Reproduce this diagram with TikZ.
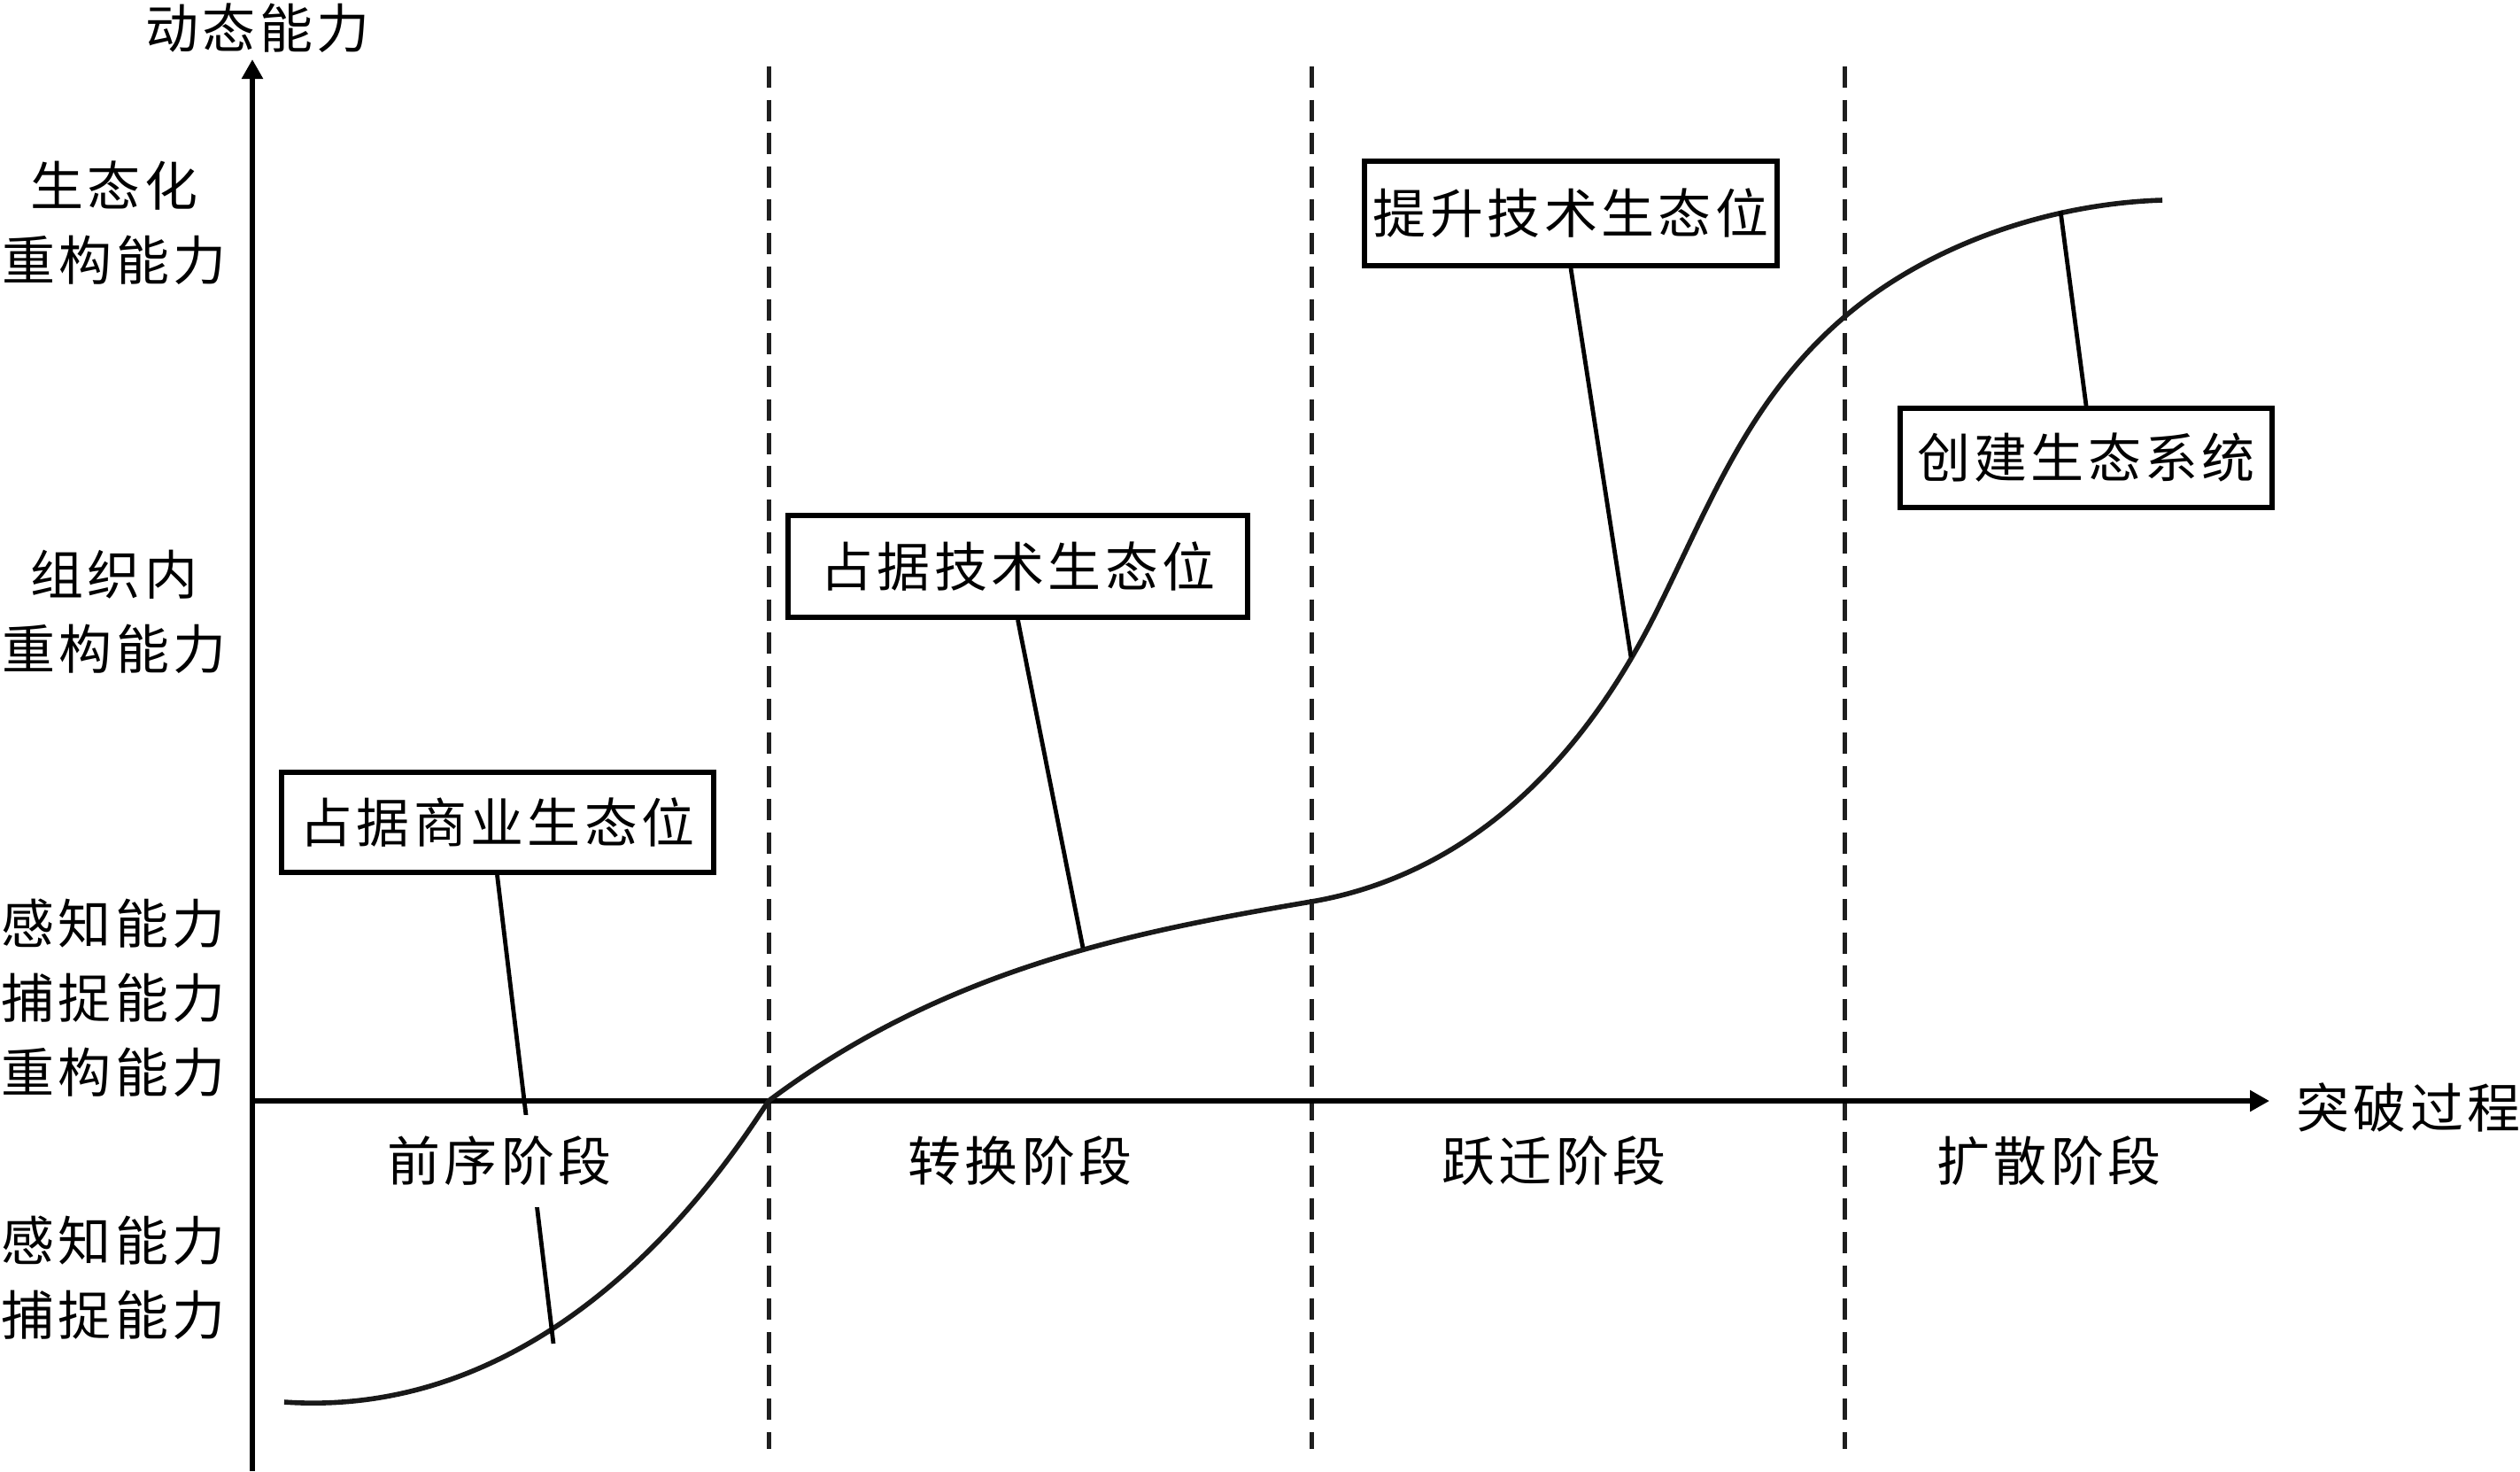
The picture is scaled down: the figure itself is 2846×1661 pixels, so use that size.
\documentclass[tikz,border=0pt]{standalone}
\usepackage{fontspec}
\newfontfamily\cjk{Noto Sans CJK SC}
\usetikzlibrary{arrows.meta}
\newdimen\lspamt \lspamt=1.1pt
\def\lspEnd{\lspEnd}
\def\lspGob#1{}
\def\lsp#1{\lspA#1\lspEnd}
\def\lspA#1#2{#1\ifx#2\lspEnd\expandafter\lspGob\else\kern\lspamt\expandafter\lspA\fi#2}
\begin{document}
\begin{tikzpicture}[x=0.25pt,y=-0.25pt,
  every node/.style={font=\cjk\fontsize{15pt}{21pt}\selectfont, inner sep=0pt},
  lab/.style={align=center},
  dashline/.style={line width=1.25pt, draw=black!88, dash pattern=on 6pt off 3.4pt},
  axis/.style={line width=1.35pt, -{Triangle[length=5.5pt,width=5.75pt]}},
  curve/.style={line width=1.4pt, draw=black!90},
  leader/.style={line width=1.2pt},
  box/.style={draw, line width=1.5pt, fill=white},
  stage/.style={fill=white, inner xsep=4pt, inner ysep=6pt}]
\useasboundingbox (0,0) rectangle (2846,1661);
% dashed stage separators
\foreach \x/\n in {868/d1,1481/d2,2083/d3}{
  \coordinate (\n t) at (\x,75);
  \coordinate (\n b) at (\x,1636);
  \draw[dashline] (\n t) -- (\n b);
}
% axes
\coordinate (O) at (285,1243);
\coordinate (yb) at (285,1661);
\coordinate (yt) at (285,67);
\coordinate (xe) at (2563,1243);
\draw[axis] (yb) -- (yt);
\draw[axis] (O) -- (xe);
\node (ylab) at (291,32) {\lsp{动态能力}};
\node (xlab) at (2720,1250) {\lsp{突破过程}};
% curve
\coordinate (k0) at (321,1583);
\coordinate (k1) at (868,1243);
\coordinate (k2) at (1481,1018);
\coordinate (k3) at (1870,692);
\coordinate (k4) at (2084,357);
\coordinate (k5) at (2442,226);
\draw[curve] (k0) .. controls (640,1605) and (830,1300) .. (k1)
  .. controls (1068,1093) and (1281,1052) .. (k2)
  .. controls (1631,992.5) and (1770,892) .. (k3)
  .. controls (1930,572) and (1974,450.5) .. (k4)
  .. controls (2184,272) and (2322,229.6) .. (k5);
% leader end points on the curve
\coordinate (c1) at (625,1517);
\coordinate (c2) at (1223,1070);
\coordinate (c3) at (1842,742);
\coordinate (c4) at (2327,238);
% boxes
\node[box, minimum width=122pt, minimum height=28.25pt] (b1) at (561.5,928.5) {\lsp{占据商业生态位}};
\node[box, minimum width=129.75pt, minimum height=28.75pt] (b2) at (1149.5,639.5) {\lsp{占据技术生态位}};
\node[box, minimum width=116.5pt, minimum height=29.5pt] (b3) at (1774,241) {\lsp{提升技术生态位}};
\node[box, minimum width=105pt, minimum height=28pt] (b4) at (2356,517) {\lsp{创建生态系统}};
% leaders
\draw[leader] (b1.south) -- (c1);
\draw[leader] (b2.south) -- (c2);
\draw[leader] (b3.south) -- (c3);
\draw[leader] (b4.north) -- (c4);
% stage labels
\node[stage] (s1) at (564,1311) {\lsp{前序阶段}};
\node[stage] (s2) at (1152,1311) {\lsp{转换阶段}};
\node[stage] (s3) at (1755,1311) {\lsp{跃迁阶段}};
\node[stage] (s4) at (2314,1311) {\lsp{扩散阶段}};
% y-axis level labels
\node[lab] (l1) at (129,252) {\lsp{生态化}\\\lsp{重构能力}};
\node[lab] (l2) at (129,691) {\lsp{组织内}\\\lsp{重构能力}};
\node[lab] (l3) at (128,1127) {\lsp{感知能力}\\\lsp{捕捉能力}\\\lsp{重构能力}};
\node[lab] (l4) at (128,1443) {\lsp{感知能力}\\\lsp{捕捉能力}};
\end{tikzpicture}
\end{document}
